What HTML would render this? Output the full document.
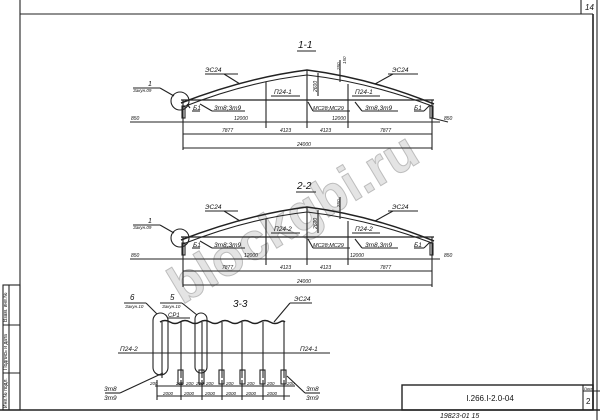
<!DOCTYPE html>
<html><head><meta charset="utf-8"><style>
html,body{margin:0;padding:0;background:#fff;}
svg{display:block;}
text{font-family:"Liberation Sans","DejaVu Sans",sans-serif;font-style:italic;fill:#111;}
svg line, svg path, svg rect.s, svg circle, g[stroke] rect{stroke-width:1.1;}
</style></head><body>
<svg width="600" height="420" viewBox="0 0 600 420" xmlns="http://www.w3.org/2000/svg">
<rect width="600" height="420" fill="#fff"/>
<!-- frame -->
<g stroke="#222" fill="none">
<line x1="20" y1="0" x2="20" y2="410"/>
<line x1="0" y1="410" x2="600" y2="410" style="stroke-width:1.6"/>
<line x1="20" y1="14" x2="593" y2="14"/>
<line x1="593" y1="14" x2="593" y2="410" style="stroke-width:1.6"/>
<line x1="581" y1="0" x2="581" y2="14"/>
<line x1="597" y1="0" x2="597" y2="420"/>
<rect x="3" y="285" width="17" height="125"/>
<line x1="3" y1="325" x2="20" y2="325"/>
<line x1="3" y1="373" x2="20" y2="373"/>
<line x1="9" y1="285" x2="9" y2="410"/>
<rect x="402" y="385" width="191" height="25" style="stroke-width:1.4"/>
<line x1="583" y1="385" x2="583" y2="410"/>
<line x1="583" y1="391" x2="600" y2="391"/>
</g>
<text x="585" y="10" font-size="8">14</text>
<text x="7" y="322" font-size="5" transform="rotate(-90 7 322)" style="font-style:normal">Взам. инв.№</text>
<text x="7" y="370" font-size="5" transform="rotate(-90 7 370)" style="font-style:normal">Подпись и дата</text>
<text x="7" y="408" font-size="5" transform="rotate(-90 7 408)" style="font-style:normal">Инв.№ подл.</text>
<text x="490" y="401" font-size="8" text-anchor="middle" style="font-style:normal">I.266.I-2.0-04</text>
<text x="584" y="390" font-size="4" style="font-style:normal">Лист</text>
<text x="586" y="404" font-size="8" style="font-style:normal">2</text>
<text x="440" y="418" font-size="7">19823-01  15</text>

<!-- watermark -->
<text x="0" y="0" font-size="52" transform="translate(182,305) rotate(-31)" style="fill:#e4e4e4;stroke:#bdbdbd;stroke-width:1;font-weight:bold;font-style:normal">blockgbi.ru</text>

<!-- section 1-1 -->
<g>
<g stroke="#222" fill="none">
<path d="M181,103 Q245,78 307,70 Q370,78 434,104" style="stroke-width:1.5"/>
<path d="M183,107 Q246,82 307,75 Q368,82 432,106"/>
<line x1="181" y1="100" x2="434" y2="100" style="stroke-width:1.3"/>
<line x1="307" y1="70" x2="307" y2="128"/>
<line x1="266" y1="82" x2="266" y2="128"/>
<line x1="348" y1="84" x2="348" y2="128"/>
<line x1="183" y1="100" x2="183" y2="150"/>
<line x1="432" y1="100" x2="432" y2="150"/>
<rect x="182" y="106" width="3" height="12"/>
<rect x="430" y="106" width="3" height="12"/>
<circle cx="180" cy="101" r="9"/>
<line x1="130" y1="122" x2="440" y2="122"/>
<line x1="183" y1="134" x2="432" y2="134"/>
<line x1="183" y1="148" x2="432" y2="148"/>
<line x1="432" y1="118" x2="448" y2="122"/>
<line x1="205" y1="74" x2="238" y2="74"/><line x1="224" y1="74" x2="240" y2="84"/>
<line x1="388" y1="74" x2="418" y2="74"/><line x1="393" y1="74" x2="375" y2="84"/>
<line x1="133" y1="88" x2="160" y2="88"/><line x1="160" y1="88" x2="174" y2="96"/>
<line x1="271" y1="96" x2="300" y2="96"/>
<line x1="352" y1="96" x2="380" y2="96"/>
<line x1="192" y1="111" x2="200" y2="111"/><line x1="187" y1="104" x2="190" y2="108"/>
<line x1="212" y1="111" x2="245" y2="111"/><line x1="212" y1="111" x2="200" y2="104"/>
<line x1="313" y1="111" x2="350" y2="111"/><line x1="313" y1="111" x2="308" y2="102"/>
<line x1="362" y1="111" x2="398" y2="111"/><line x1="362" y1="111" x2="355" y2="102"/>
<line x1="414" y1="111" x2="424" y2="111"/><line x1="424" y1="111" x2="430" y2="105"/>
<line x1="318" y1="73" x2="318" y2="96"/>
<line x1="340" y1="60" x2="340" y2="82"/>
</g>
<g font-size="6.5">
<text x="205" y="72">ЭС24</text>
<text x="392" y="72">ЭС24</text>
<text x="274" y="94">П24-1</text>
<text x="355" y="94">П24-1</text>
<text x="193" y="110">Б1</text>
<text x="214" y="110">3т8;3т9</text>
<text x="313" y="110" font-size="5.5">МС28;МС29</text>
<text x="365" y="110">3т8,3т9</text>
<text x="414" y="110">Б1</text>
<text x="148" y="86" font-size="7">1</text>
<text x="133" y="92" font-size="4.5">Закун.09</text>
<text x="131" y="120" font-size="5">850</text>
<text x="444" y="120" font-size="5">850</text>
<text x="234" y="120" font-size="5">12000</text>
<text x="332" y="120" font-size="5">12000</text>
<text x="222" y="132" font-size="5">7877</text>
<text x="280" y="132" font-size="5">4123</text>
<text x="320" y="132" font-size="5">4123</text>
<text x="380" y="132" font-size="5">7877</text>
<text x="297" y="146" font-size="5">24000</text>
<text x="317" y="92" font-size="5" transform="rotate(-90 317 92)">2600</text>
<text x="340" y="70" font-size="4.5" transform="rotate(-90 340 70)">250</text>
<text x="346" y="64" font-size="4.5" transform="rotate(-90 346 64)">150</text>
</g>
</g>
<text x="298" y="48" font-size="10">1-1</text>
<line x1="297" y1="51" x2="316" y2="51" stroke="#222"/>

<!-- section 2-2 -->
<g transform="translate(0,137)">
<g stroke="#222" fill="none">
<path d="M181,103 Q245,78 307,70 Q370,78 434,104" style="stroke-width:1.5"/>
<path d="M183,107 Q246,82 307,75 Q368,82 432,106"/>
<line x1="181" y1="100" x2="434" y2="100" style="stroke-width:1.3"/>
<line x1="307" y1="70" x2="307" y2="128"/>
<line x1="266" y1="82" x2="266" y2="128"/>
<line x1="348" y1="84" x2="348" y2="128"/>
<line x1="183" y1="100" x2="183" y2="150"/>
<line x1="432" y1="100" x2="432" y2="150"/>
<rect x="182" y="106" width="3" height="12"/>
<rect x="430" y="106" width="3" height="12"/>
<circle cx="180" cy="101" r="9"/>
<line x1="130" y1="122" x2="440" y2="122"/>
<line x1="183" y1="134" x2="432" y2="134"/>
<line x1="183" y1="148" x2="432" y2="148"/>
<line x1="205" y1="74" x2="238" y2="74"/><line x1="224" y1="74" x2="240" y2="84"/>
<line x1="388" y1="74" x2="418" y2="74"/><line x1="393" y1="74" x2="375" y2="84"/>
<line x1="133" y1="88" x2="160" y2="88"/><line x1="160" y1="88" x2="174" y2="96"/>
<line x1="271" y1="96" x2="300" y2="96"/>
<line x1="352" y1="96" x2="380" y2="96"/>
<line x1="192" y1="111" x2="200" y2="111"/>
<line x1="212" y1="111" x2="245" y2="111"/><line x1="212" y1="111" x2="200" y2="104"/>
<line x1="313" y1="111" x2="350" y2="111"/><line x1="313" y1="111" x2="308" y2="102"/>
<line x1="362" y1="111" x2="398" y2="111"/><line x1="362" y1="111" x2="355" y2="102"/>
<line x1="414" y1="111" x2="424" y2="111"/><line x1="424" y1="111" x2="430" y2="105"/>
<line x1="318" y1="73" x2="318" y2="96"/>
<line x1="340" y1="60" x2="340" y2="82"/>
</g>
<g font-size="6.5">
<text x="205" y="72">ЭС24</text>
<text x="392" y="72">ЭС24</text>
<text x="274" y="94">П24-2</text>
<text x="355" y="94">П24-2</text>
<text x="193" y="110">Б1</text>
<text x="214" y="110">3т8;3т9</text>
<text x="313" y="110" font-size="5.5">МС28;МС29</text>
<text x="365" y="110">3т8,3т9</text>
<text x="414" y="110">Б1</text>
<text x="148" y="86" font-size="7">1</text>
<text x="133" y="92" font-size="4.5">Закун.09</text>
<text x="131" y="120" font-size="5">850</text>
<text x="444" y="120" font-size="5">850</text>
<text x="244" y="120" font-size="5">12000</text>
<text x="350" y="120" font-size="5">12000</text>
<text x="222" y="132" font-size="5">7877</text>
<text x="280" y="132" font-size="5">4123</text>
<text x="320" y="132" font-size="5">4123</text>
<text x="380" y="132" font-size="5">7877</text>
<text x="297" y="146" font-size="5">24000</text>
<text x="317" y="92" font-size="5" transform="rotate(-90 317 92)">2600</text>
<text x="340" y="70" font-size="4.5" transform="rotate(-90 340 70)">250</text>
</g>
</g>
<text x="297" y="189" font-size="10">2-2</text>
<line x1="296" y1="192" x2="316" y2="192" stroke="#222"/>

<!-- section 3-3 -->
<g stroke="#222" fill="none">
<path d="M160,322 q5,-3 10,0 q5,3 10,0 q5,-3 10,0 q5,3 10,0 q5,-3 10,0 q5,3 10,0 q5,-3 10,0 q5,3 10,0 q5,-3 10,0 q5,3 10,0 q5,-3 10,0 q5,3 10,0 q3,-2 5,0" style="stroke-width:1.4"/>
<line x1="162" y1="322" x2="162" y2="378"/>
<line x1="181" y1="322" x2="181" y2="378"/>
<line x1="202" y1="322" x2="202" y2="378"/>
<line x1="222" y1="322" x2="222" y2="378"/>
<line x1="242" y1="322" x2="242" y2="378"/>
<line x1="263" y1="322" x2="263" y2="378"/>
<line x1="284" y1="322" x2="284" y2="378"/>
<rect x="153" y="313" width="15" height="62" rx="7.5"/>
<rect x="195" y="313" width="12" height="60" rx="6"/>
<line x1="118" y1="353" x2="330" y2="353"/>
<rect x="178" y="370" width="5" height="14"/><rect x="199" y="370" width="5" height="14"/>
<rect x="219" y="370" width="5" height="14"/><rect x="240" y="370" width="5" height="14"/>
<rect x="260" y="370" width="5" height="14"/><rect x="281" y="370" width="5" height="14"/>
<line x1="155" y1="386" x2="295" y2="386"/>
<line x1="157" y1="396" x2="290" y2="396"/>
<line x1="157" y1="380" x2="157" y2="400"/>
<line x1="181" y1="380" x2="181" y2="400"/>
<line x1="202" y1="380" x2="202" y2="400"/>
<line x1="222" y1="380" x2="222" y2="400"/>
<line x1="242" y1="380" x2="242" y2="400"/>
<line x1="263" y1="380" x2="263" y2="400"/>
<line x1="284" y1="380" x2="284" y2="400"/>
<line x1="105" y1="393" x2="120" y2="393"/><line x1="120" y1="393" x2="163" y2="373"/>
<line x1="305" y1="393" x2="320" y2="393"/><line x1="305" y1="393" x2="287" y2="376"/>
<line x1="124" y1="303" x2="146" y2="303"/><line x1="146" y1="303" x2="157" y2="314"/>
<line x1="160" y1="303" x2="182" y2="303"/><line x1="182" y1="303" x2="197" y2="315"/>
<line x1="290" y1="303" x2="312" y2="303"/><line x1="290" y1="303" x2="274" y2="322"/>
<line x1="168" y1="318" x2="190" y2="318"/>
</g>
<g font-size="6.5">
<text x="233" y="307" font-size="10">3-3</text>
<text x="130" y="300" font-size="8">6</text>
<text x="125" y="308" font-size="4.5">Закун.10</text>
<text x="170" y="300" font-size="8">5</text>
<text x="162" y="308" font-size="4.5">Закун.10</text>
<text x="294" y="301">ЭС24</text>
<text x="168" y="317" font-size="6">СР1</text>
<text x="120" y="351">П24-2</text>
<text x="300" y="351">П24-1</text>
<text x="104" y="391">3т8</text>
<text x="104" y="400">3т9</text>
<text x="306" y="391">3т8</text>
<text x="306" y="400">3т9</text>
</g>
<g font-size="4.5">
<text x="150" y="385">200</text><text x="176" y="385">200</text><text x="186" y="385">200</text>
<text x="196" y="385">200</text><text x="206" y="385">200</text><text x="226" y="385">200</text>
<text x="247" y="385">200</text><text x="267" y="385">200</text><text x="287" y="385">200</text>
<text x="163" y="395">2000</text><text x="184" y="395">2000</text><text x="205" y="395">2000</text>
<text x="226" y="395">2000</text><text x="246" y="395">2000</text><text x="267" y="395">2000</text>
</g>
</svg>
</body></html>
